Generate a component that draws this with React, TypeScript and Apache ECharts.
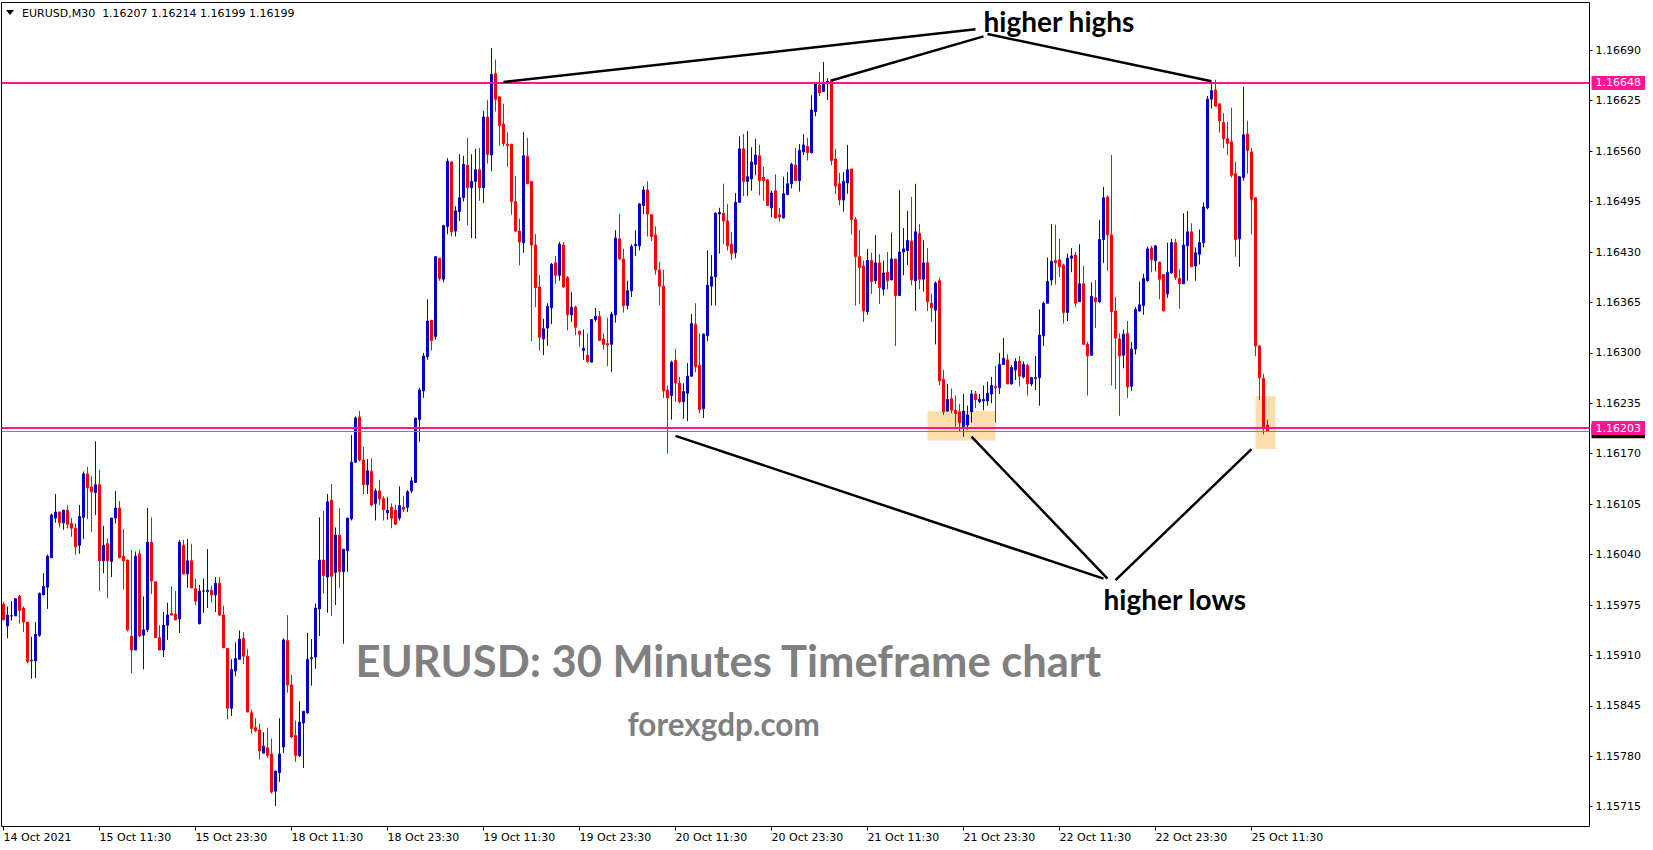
import React, { useEffect, useRef } from 'react';
import * as echarts from 'echarts';

// ---------- DATA (EURUSD M30) ----------
const OPEN = [
  1.15976,1.15948,1.15961,1.15961,1.15986,1.15971,1.15953,1.15903,1.15903,1.15936,
  1.15988,1.15998,1.16036,1.16087,1.16095,1.16081,1.16097,1.16080,1.16074,1.16052,
  1.16088,1.16144,1.16127,1.16120,1.16130,1.16032,1.16054,1.16031,1.16087,1.16100,
  1.16038,1.16033,1.15935,1.15917,1.16041,1.15936,1.15943,1.16056,1.16005,1.15933,
  1.15917,1.15949,1.15964,1.15963,1.15957,1.16052,1.16015,1.16032,1.15996,1.15951,
  1.15993,1.15992,1.15994,1.15988,1.16003,1.15962,1.15919,1.15842,1.15890,1.15905,
  1.15932,1.15909,1.15836,1.15817,1.15814,1.15784,1.15791,1.15783,1.15735,1.15759,
  1.15792,1.15929,1.15872,1.15807,1.15781,1.15823,1.15836,1.15906,1.15908,1.15970,
  1.16033,1.16011,1.16110,1.16017,1.16065,1.16018,1.16045,1.16086,1.16159,1.16217,
  1.16162,1.16130,1.16147,1.16106,1.16122,1.16112,1.16094,1.16101,1.16097,1.16087,
  1.16101,1.16101,1.16122,1.16133,1.16214,1.16251,1.16295,1.16342,1.16321,1.16422,
  1.16395,1.16463,1.16546,1.16457,1.16482,1.16500,1.16542,1.16513,1.16521,1.16536,
  1.16513,1.16604,1.16555,1.16660,1.16630,1.16595,1.16569,1.16569,1.16495,1.16457,
  1.16442,1.16553,1.16521,1.16439,1.16385,1.16318,1.16332,1.16358,1.16416,1.16400,
  1.16439,1.16397,1.16349,1.16359,1.16328,1.16303,1.16297,1.16288,1.16343,1.16347,
  1.16318,1.16312,1.16311,1.16349,1.16447,1.16421,1.16361,1.16380,1.16438,1.16438,
  1.16490,1.16510,1.16478,1.16452,1.16407,1.16386,1.16252,1.16245,1.16290,1.16261,
  1.16237,1.16248,1.16270,1.16337,1.16284,1.16228,1.16322,1.16386,1.16398,1.16479,
  1.16480,1.16470,1.16440,1.16429,1.16494,1.16563,1.16521,1.16524,1.16543,1.16554,
  1.16526,1.16523,1.16487,1.16509,1.16478,1.16474,1.16504,1.16518,1.16542,1.16522,
  1.16559,1.16566,1.16558,1.16611,1.16645,1.16637,1.16647,1.16652,1.16550,1.16518,
  1.16497,1.16519,1.16537,1.16472,1.16424,1.16412,1.16353,1.16419,1.16393,1.16416,
  1.16382,1.16404,1.16394,1.16421,1.16374,1.16430,1.16432,1.16444,1.16393,1.16454,
  1.16395,1.16416,1.16364,1.16355,1.16393,1.16266,1.16225,1.16241,1.16226,1.16224,
  1.16205,1.16207,1.16224,1.16247,1.16237,1.16238,1.16238,1.16247,1.16257,1.16255,
  1.16285,1.16291,1.16260,1.16278,1.16289,1.16269,1.16284,1.16260,1.16267,1.16268,
  1.16322,1.16364,1.16394,1.16419,1.16420,1.16413,1.16352,1.16422,1.16426,1.16366,
  1.16389,1.16311,1.16297,1.16371,1.16366,1.16446,1.16501,1.16452,1.16354,1.16318,
  1.16297,1.16325,1.16257,1.16305,1.16354,1.16361,1.16393,1.16435,1.16419,1.16417,
  1.16401,1.16376,1.16403,1.16442,1.16396,1.16389,1.16438,1.16456,1.16412,1.16427,
  1.16442,1.16487,1.16627,1.16639,1.16621,1.16597,1.16576,1.16572,1.16531,1.16447,
  1.16526,1.16582,1.16559,1.16500,1.16309,1.16267,1.16207,
];

const HIGH = [
  1.15979,1.15973,1.15980,1.15984,1.15988,1.15973,1.15953,1.15934,1.15953,1.15991,
  1.16016,1.16040,1.16093,1.16118,1.16095,1.16098,1.16104,1.16087,1.16080,1.16104,
  1.16147,1.16153,1.16141,1.16186,1.16149,1.16077,1.16061,1.16087,1.16122,1.16109,
  1.16073,1.16033,1.16046,1.16044,1.16046,1.15986,1.16100,1.16088,1.16005,1.15949,
  1.15966,1.15978,1.15999,1.15993,1.16059,1.16059,1.16060,1.16054,1.16009,1.16001,
  1.16009,1.16047,1.16000,1.16011,1.16011,1.15974,1.15919,1.15905,1.15927,1.15942,
  1.15940,1.15918,1.15840,1.15829,1.15822,1.15811,1.15817,1.15803,1.15761,1.15829,
  1.15932,1.15962,1.15885,1.15826,1.15851,1.15838,1.15939,1.15931,1.15977,1.16088,
  1.16096,1.16118,1.16131,1.16075,1.16100,1.16047,1.16087,1.16194,1.16218,1.16225,
  1.16179,1.16163,1.16164,1.16125,1.16136,1.16115,1.16114,1.16106,1.16104,1.16128,
  1.16115,1.16123,1.16140,1.16216,1.16255,1.16300,1.16369,1.16342,1.16425,1.16422,
  1.16465,1.16551,1.16547,1.16489,1.16556,1.16554,1.16577,1.16556,1.16563,1.16564,
  1.16612,1.16626,1.16693,1.16678,1.16630,1.16621,1.16584,1.16569,1.16528,1.16473,
  1.16585,1.16577,1.16521,1.16453,1.16400,1.16344,1.16364,1.16416,1.16425,1.16443,
  1.16443,1.16399,1.16378,1.16361,1.16328,1.16330,1.16325,1.16343,1.16358,1.16354,
  1.16325,1.16345,1.16353,1.16458,1.16479,1.16434,1.16393,1.16440,1.16458,1.16493,
  1.16515,1.16521,1.16479,1.16463,1.16417,1.16407,1.16258,1.16290,1.16305,1.16269,
  1.16261,1.16287,1.16350,1.16364,1.16325,1.16325,1.16432,1.16426,1.16481,1.16487,
  1.16518,1.16492,1.16456,1.16506,1.16579,1.16582,1.16586,1.16565,1.16576,1.16568,
  1.16540,1.16524,1.16509,1.16530,1.16487,1.16527,1.16533,1.16545,1.16564,1.16569,
  1.16582,1.16577,1.16632,1.16647,1.16662,1.16675,1.16654,1.16653,1.16563,1.16532,
  1.16533,1.16568,1.16537,1.16475,1.16458,1.16419,1.16434,1.16429,1.16452,1.16427,
  1.16419,1.16430,1.16455,1.16421,1.16510,1.16461,1.16483,1.16501,1.16518,1.16466,
  1.16445,1.16435,1.16376,1.16392,1.16397,1.16278,1.16260,1.16254,1.16245,1.16234,
  1.16247,1.16232,1.16252,1.16251,1.16247,1.16258,1.16263,1.16269,1.16283,1.16300,
  1.16319,1.16298,1.16284,1.16293,1.16296,1.16289,1.16286,1.16269,1.16296,1.16356,
  1.16366,1.16423,1.16466,1.16465,1.16447,1.16415,1.16428,1.16435,1.16430,1.16440,
  1.16412,1.16314,1.16391,1.16394,1.16471,1.16514,1.16503,1.16555,1.16372,1.16325,
  1.16330,1.16341,1.16314,1.16359,1.16392,1.16402,1.16437,1.16438,1.16439,1.16417,
  1.16401,1.16442,1.16447,1.16447,1.16408,1.16480,1.16483,1.16467,1.16436,1.16459,
  1.16494,1.16631,1.16648,1.16652,1.16621,1.16609,1.16598,1.16616,1.16546,1.16528,
  1.16643,1.16599,1.16564,1.16500,1.16310,1.16273,1.16214,
];

const LOW = [
  1.15955,1.15932,1.15955,1.15961,1.15951,1.15940,1.15900,1.15880,1.15881,1.15934,
  1.15988,1.15970,1.16036,1.16081,1.16075,1.16072,1.16074,1.16063,1.16040,1.16041,
  1.16060,1.16086,1.16069,1.16091,1.15993,1.16016,1.15984,1.16011,1.16080,1.16035,
  1.15995,1.15941,1.15887,1.15917,1.15934,1.15892,1.15940,1.15989,1.15933,1.15917,
  1.15908,1.15930,1.15962,1.15955,1.15939,1.16015,1.15997,1.15997,1.15975,1.15950,
  1.15965,1.15971,1.15978,1.15966,1.15961,1.15920,1.15828,1.15832,1.15883,1.15905,
  1.15899,1.15837,1.15809,1.15811,1.15776,1.15784,1.15778,1.15732,1.15716,1.15747,
  1.15784,1.15862,1.15803,1.15773,1.15779,1.15765,1.15835,1.15871,1.15893,1.15935,
  1.15990,1.15965,1.15961,1.15975,1.15997,1.15925,1.16018,1.16084,1.16159,1.16160,
  1.16118,1.16118,1.16102,1.16084,1.16104,1.16084,1.16085,1.16074,1.16079,1.16084,
  1.16095,1.16095,1.16119,1.16133,1.16185,1.16242,1.16291,1.16303,1.16317,1.16393,
  1.16391,1.16453,1.16450,1.16450,1.16470,1.16495,1.16464,1.16448,1.16447,1.16496,
  1.16493,1.16544,1.16534,1.16611,1.16567,1.16566,1.16540,1.16478,1.16456,1.16413,
  1.16429,1.16518,1.16315,1.16359,1.16303,1.16297,1.16309,1.16337,1.16389,1.16393,
  1.16384,1.16329,1.16340,1.16323,1.16308,1.16291,1.16287,1.16288,1.16340,1.16316,
  1.16304,1.16283,1.16275,1.16339,1.16420,1.16352,1.16356,1.16372,1.16425,1.16432,
  1.16479,1.16450,1.16444,1.16401,1.16361,1.16242,1.16170,1.16214,1.16237,1.16235,
  1.16215,1.16212,1.16269,1.16275,1.16222,1.16216,1.16315,1.16361,1.16361,1.16428,
  1.16440,1.16432,1.16420,1.16422,1.16494,1.16502,1.16502,1.16509,1.16529,1.16503,
  1.16496,1.16490,1.16475,1.16473,1.16469,1.16473,1.16504,1.16512,1.16522,1.16508,
  1.16555,1.16548,1.16557,1.16605,1.16631,1.16637,1.16626,1.16542,1.16505,1.16490,
  1.16482,1.16505,1.16453,1.16361,1.16363,1.16340,1.16349,1.16376,1.16389,1.16363,
  1.16374,1.16382,1.16394,1.16309,1.16374,1.16400,1.16413,1.16387,1.16354,1.16382,
  1.16379,1.16354,1.16340,1.16311,1.16258,1.16220,1.16224,1.16222,1.16205,1.16199,
  1.16192,1.16201,1.16210,1.16229,1.16235,1.16226,1.16232,1.16235,1.16210,1.16247,
  1.16285,1.16260,1.16259,1.16265,1.16257,1.16267,1.16245,1.16257,1.16252,1.16232,
  1.16309,1.16364,1.16387,1.16388,1.16398,1.16338,1.16341,1.16404,1.16359,1.16366,
  1.16310,1.16245,1.16296,1.16332,1.16364,1.16416,1.16406,1.16258,1.16253,1.16219,
  1.16280,1.16242,1.16251,1.16298,1.16353,1.16349,1.16392,1.16404,1.16405,1.16369,
  1.16354,1.16371,1.16402,1.16394,1.16357,1.16389,1.16393,1.16411,1.16393,1.16414,
  1.16436,1.16485,1.16615,1.16618,1.16584,1.16564,1.16555,1.16526,1.16424,1.16411,
  1.16522,1.16531,1.16453,1.16296,1.16239,1.16195,1.16199,
];

const CLOSE = [
  1.15956,1.15962,1.15961,1.15983,1.15968,1.15953,1.15902,1.15904,1.15937,1.15990,
  1.15999,1.16038,1.16091,1.16095,1.16081,1.16097,1.16079,1.16074,1.16050,1.16089,
  1.16144,1.16126,1.16121,1.16130,1.16032,1.16052,1.16032,1.16087,1.16100,1.16036,
  1.16032,1.15943,1.15917,1.16038,1.15935,1.15943,1.16056,1.16006,1.15933,1.15917,
  1.15949,1.15962,1.15962,1.15956,1.16056,1.16015,1.16032,1.15997,1.15980,1.15993,
  1.15993,1.15994,1.15988,1.16003,1.15962,1.15920,1.15842,1.15892,1.15906,1.15931,
  1.15909,1.15837,1.15816,1.15813,1.15787,1.15793,1.15781,1.15734,1.15761,1.15783,
  1.15930,1.15872,1.15805,1.15781,1.15824,1.15838,1.15905,1.15907,1.15971,1.16033,
  1.16013,1.16108,1.16012,1.16065,1.16018,1.16047,1.16087,1.16159,1.16216,1.16162,
  1.16130,1.16148,1.16104,1.16122,1.16112,1.16098,1.16097,1.16087,1.16079,1.16103,
  1.16098,1.16121,1.16135,1.16216,1.16252,1.16296,1.16341,1.16316,1.16424,1.16396,
  1.16464,1.16547,1.16456,1.16483,1.16500,1.16543,1.16513,1.16521,1.16536,1.16513,
  1.16604,1.16556,1.16659,1.16627,1.16593,1.16570,1.16567,1.16495,1.16457,1.16443,
  1.16554,1.16518,1.16439,1.16384,1.16320,1.16331,1.16360,1.16414,1.16400,1.16440,
  1.16385,1.16349,1.16359,1.16333,1.16324,1.16306,1.16289,1.16343,1.16347,1.16316,
  1.16311,1.16310,1.16350,1.16448,1.16421,1.16361,1.16380,1.16437,1.16440,1.16492,
  1.16510,1.16479,1.16450,1.16407,1.16386,1.16251,1.16242,1.16288,1.16261,1.16237,
  1.16250,1.16270,1.16338,1.16282,1.16227,1.16324,1.16387,1.16398,1.16480,1.16481,
  1.16470,1.16438,1.16428,1.16494,1.16563,1.16521,1.16527,1.16546,1.16555,1.16522,
  1.16522,1.16490,1.16506,1.16474,1.16475,1.16505,1.16518,1.16543,1.16522,1.16561,
  1.16568,1.16558,1.16613,1.16647,1.16635,1.16648,1.16650,1.16548,1.16515,1.16497,
  1.16521,1.16536,1.16472,1.16424,1.16410,1.16354,1.16419,1.16392,1.16416,1.16384,
  1.16403,1.16393,1.16421,1.16374,1.16430,1.16434,1.16445,1.16394,1.16456,1.16395,
  1.16416,1.16366,1.16358,1.16390,1.16264,1.16224,1.16240,1.16226,1.16222,1.16210,
  1.16225,1.16220,1.16247,1.16240,1.16240,1.16240,1.16248,1.16258,1.16255,1.16285,
  1.16293,1.16260,1.16281,1.16289,1.16270,1.16285,1.16260,1.16268,1.16268,1.16323,
  1.16364,1.16392,1.16418,1.16416,1.16411,1.16352,1.16422,1.16425,1.16364,1.16389,
  1.16311,1.16296,1.16373,1.16366,1.16446,1.16500,1.16452,1.16353,1.16319,1.16296,
  1.16324,1.16256,1.16305,1.16356,1.16362,1.16396,1.16434,1.16420,1.16438,1.16395,
  1.16354,1.16404,1.16442,1.16397,1.16389,1.16439,1.16456,1.16411,1.16429,1.16442,
  1.16488,1.16627,1.16638,1.16618,1.16599,1.16576,1.16570,1.16529,1.16446,1.16527,
  1.16581,1.16561,1.16498,1.16309,1.16268,1.16204,1.16199,
];

const TIME_LABELS = [
  '14 Oct 2021', '15 Oct 11:30', '15 Oct 23:30', '18 Oct 11:30', '18 Oct 23:30',
  '19 Oct 11:30', '19 Oct 23:30', '20 Oct 11:30', '20 Oct 23:30', '21 Oct 11:30',
  '21 Oct 23:30', '22 Oct 11:30', '22 Oct 23:30', '25 Oct 11:30',
];
const BARS_PER_LABEL = 24;

const PRICE_TICKS = [
  1.15715, 1.15780, 1.15845, 1.15910, 1.15975, 1.16040, 1.16105, 1.16170,
  1.16235, 1.16300, 1.16365, 1.16430, 1.16495, 1.16560, 1.16625, 1.16690,
];

const LEVELS = [1.16648, 1.16203];
const BID = 1.16199;

// Annotations, in [bar index, price]
const HH_TEXT = [244.5, 1.16728];
const HH_LINES = [
  [[124.75, 1.16649], [242.75, 1.16717]],
  [[207.4, 1.16651], [244.8, 1.16708]],
  [[246.1, 1.16711], [301.5, 1.1665]],
];
const HL_TEXT = [275, 1.15983];
const HL_LINES = [
  [[168.2, 1.16193], [274.9, 1.16009]],
  [[241.7, 1.16192], [275.75, 1.16009]],
  [[312.2, 1.16176], [277.85, 1.16007]],
];
const ZONES = [
  [[230.75, 1.16225], [247.7, 1.16187]],
  [[312.75, 1.16244], [317.75, 1.16176]],
];
const WATERMARK_1 = [87.75, 1.15904];
const WATERMARK_2 = [155.75, 1.15822];

// ---------- LAYOUT ----------
const W = 1653;
const H = 850;
const SLOTS = 397;
const Y_MIN = 1.156895;
const Y_MAX = 1.167516;
const FONT = 'DejaVu Sans';

export default function App() {
  const ref = useRef<HTMLDivElement>(null);

  useEffect(() => {
    if (!ref.current) return;
    const chart = echarts.init(ref.current, null, { renderer: 'svg' });

    const categories = Array.from({ length: SLOTS }, (_, i) => String(i));
    const candles = OPEN.map((o, i) => [o, CLOSE[i], LOW[i], HIGH[i]]);
    const isLabel = (i: number) => i % BARS_PER_LABEL === 0 && i / BARS_PER_LABEL < TIME_LABELS.length;

    const levelLine = (v: number, color: string, width: number, labelBg: string) => ({
      yAxis: v,
      lineStyle: { color, width, type: 'solid' },
      label: {
        show: true,
        position: 'end',
        distance: 2,
        formatter: () => v.toFixed(5),
        color: '#fff',
        backgroundColor: labelBg,
        padding: [2, 4, 1, 4],
        fontSize: 11,
        fontFamily: FONT,
      },
    });

    chart.setOption({
      animation: false,
      backgroundColor: '#ffffff',
      grid: {
        left: 1.5, right: 63.5, top: 2.5, bottom: 23.5,
        show: true, borderColor: '#000', borderWidth: 1, backgroundColor: 'transparent',
      },
      xAxis: {
        type: 'category',
        data: categories,
        boundaryGap: true,
        axisLine: { show: false },
        axisTick: { show: true, alignWithLabel: true, length: 4, interval: (i: number) => isLabel(i), lineStyle: { color: '#000' } },
        axisLabel: {
          show: true,
          interval: (i: number) => isLabel(i),
          formatter: (_v: string, i: number) => TIME_LABELS[i / BARS_PER_LABEL] ?? '',
          align: 'left',
          margin: 5,
          color: '#000',
          fontSize: 11,
          fontFamily: FONT,
        },
        splitLine: { show: false },
      },
      yAxis: {
        type: 'value',
        position: 'right',
        min: Y_MIN,
        max: Y_MAX,
        axisLine: { show: false },
        axisTick: { show: true, length: 3, customValues: PRICE_TICKS, lineStyle: { color: '#000' } },
        axisLabel: {
          customValues: PRICE_TICKS,
          formatter: (v: number) => v.toFixed(5),
          color: '#000',
          fontSize: 11,
          fontFamily: FONT,
          margin: 6,
        },
        splitLine: { show: false },
      },
      series: [
        {
          type: 'candlestick',
          data: candles,
          barWidth: 2,
          itemStyle: {
            color: '#0000CD',
            color0: '#FF0000',
            borderColor: '#0000CD',
            borderColor0: '#FF0000',
            borderColorDoji: '#000000',
            borderWidth: 1,
          },
          markLine: {
            silent: true,
            symbol: ['none', 'none'],
            precision: 6,
            animation: false,
            data: [
              levelLine(BID, '#778899', 1, '#000000'),
              levelLine(LEVELS[0], '#FF1493', 2, '#FF1493'),
              levelLine(LEVELS[1], '#FF1493', 2, '#FF1493'),
            ],
          },
        },
      ],
    });

    const px = (p: number[]) => chart.convertToPixel({ gridIndex: 0 }, p) as number[];
    const line = (a: number[], b: number[]) => {
      const p1 = px(a);
      const p2 = px(b);
      return {
        type: 'line', z: 100,
        shape: { x1: p1[0], y1: p1[1], x2: p2[0], y2: p2[1] },
        style: { stroke: '#000', lineWidth: 2.5 },
      };
    };
    const text = (at: number[], s: string, size: number, color: string) => {
      const p = px(at);
      return {
        type: 'text', z: 100, x: p[0], y: p[1],
        style: {
          text: s, fill: color, fontSize: size, fontWeight: 'bold', fontFamily: 'Lato',
          textAlign: 'left', align: 'left', textVerticalAlign: 'middle', verticalAlign: 'middle',
        },
      };
    };
    const zone = (a: number[], b: number[]) => {
      const p1 = px(a);
      const p2 = px(b);
      return {
        type: 'rect', z: 1,
        shape: { x: p1[0], y: p1[1], width: p2[0] - p1[0], height: p2[1] - p1[1] },
        style: { fill: '#FFDEAD' },
      };
    };
    const last = OPEN.length - 1;
    const header = `EURUSD,M30  ${OPEN[last].toFixed(5)} ${HIGH[last].toFixed(5)} ${LOW[last].toFixed(5)} ${CLOSE[last].toFixed(5)}`;

    chart.setOption({
      graphic: [
        ...ZONES.map(([a, b]) => zone(a, b)),
        text(WATERMARK_1, 'EURUSD: 30 Minutes Timeframe chart', 43.5, '#808080'),
        text(WATERMARK_2, 'forexgdp.com', 31.5, '#808080'),
        ...HH_LINES.map(([a, b]) => line(a, b)),
        ...HL_LINES.map(([a, b]) => line(a, b)),
        text(HH_TEXT, 'higher highs', 28, '#000'),
        text(HL_TEXT, 'higher lows', 28, '#000'),
        {
          type: 'polygon', z: 100,
          shape: { points: [[6, 10], [14, 10], [10, 15]] },
          style: { fill: '#000' },
        },
        {
          type: 'text', z: 100, x: 22, y: 13,
          style: {
            text: header, fill: '#000', fontSize: 11, fontFamily: FONT,
            textVerticalAlign: 'middle', verticalAlign: 'middle',
          },
        },
      ],
    });

    return () => chart.dispose();
  }, []);

  return (
    <div style={{ position: 'fixed', left: 0, top: 0, width: W, height: H, background: '#fff' }}>
      <div ref={ref} style={{ width: W, height: H }} />
    </div>
  );
}
